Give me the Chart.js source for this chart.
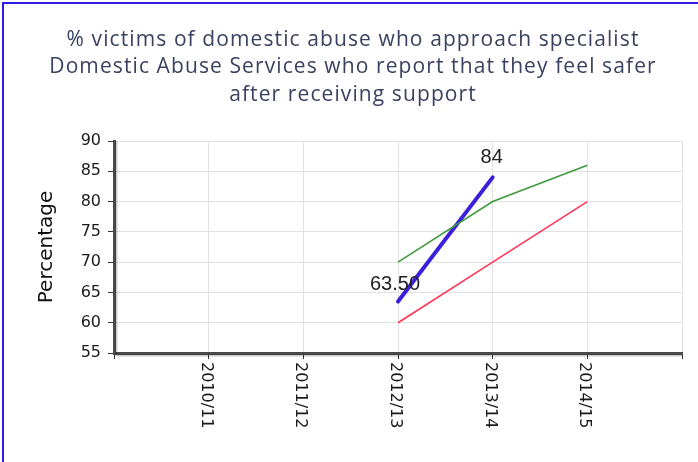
<!DOCTYPE html>
<html>
<head>
<meta charset="utf-8">
<script src="https://cdn.jsdelivr.net/npm/chart.js@4/dist/chart.umd.min.js"></script>
<style>
  html, body { margin:0; padding:0; background:#fff; overflow:hidden; }
  #wrap { position:relative; width:698px; height:462px; }
  #frame { position:absolute; left:2px; top:2px; width:900px; height:700px;
           border-top:2px solid #2d1de6; border-left:2px solid #2d1de6; pointer-events:none; }
  canvas { position:absolute; left:0; top:0; }
</style>
</head>
<body>
<div id="wrap">
  <canvas id="c" width="698" height="462"></canvas>
  <div id="frame"></div>
</div>
<script>
// ---- data ----
const categories = ['', '2010/11', '2011/12', '2012/13', '2013/14', '2014/15', ''];
const actualValues = [null, null, null, 63.5, 84, null, null];
const actualLabels = [null, null, null, '63.50', '84', null, null];
const upperTarget = [null, null, null, 70, 80, 86, null];
const lowerTarget = [null, null, null, 60, 70, 80, null];
const yTicks = [55, 60, 65, 70, 75, 80, 85, 90];
const titleLines = ['% victims of domestic abuse who approach specialist',
                    'Domestic Abuse Services who report that they feel safer',
                    'after receiving support'];
const yTitle = 'Percentage';

// Title drawn with letter spacing over the (transparent) layout title box
const spacedTitle = {
  id: 'spacedTitle',
  afterDraw(chart) {
    const {ctx} = chart;
    ctx.save();
    ctx.font = '21px "Open Sans"';
    ctx.fillStyle = '#3a4160';
    ctx.textAlign = 'center';
    ctx.textBaseline = 'middle';
    try { ctx.letterSpacing = '1.1px'; } catch (e) {}
    const cx = 353;
    titleLines.forEach((t, i) => ctx.fillText(t, cx, 40 + i * 27.5));
    ctx.restore();
  }
};

const rotatedXLabels = {
  id: 'rotatedXLabels',
  afterDraw(chart) {
    const {ctx, scales:{x}} = chart;
    ctx.save();
    ctx.font = '16px "DejaVu Sans"';
    ctx.fillStyle = '#1a1a1a';
    ctx.textAlign = 'left';
    ctx.textBaseline = 'middle';
    categories.forEach((lab, i) => {
      if (!lab) return;
      const px = x.getPixelForValue(i);
      ctx.save();
      ctx.translate(px - 3, x.top + 9);
      ctx.rotate(Math.PI / 2);
      ctx.fillText(lab, 0, 0);
      ctx.restore();
    });
    ctx.restore();
  }
};

const pointLabels = {
  id: 'pointLabels',
  afterDatasetsDraw(chart) {
    const {ctx, scales:{x, y}} = chart;
    ctx.save();
    ctx.font = '20px "Liberation Sans"';
    ctx.fillStyle = '#222';
    ctx.textAlign = 'center';
    ctx.textBaseline = 'middle';
    actualLabels.forEach((lab, i) => {
      if (lab == null) return;
      const px = x.getPixelForValue(i);
      const py = y.getPixelForValue(actualValues[i]);
      const dx = (i === 3) ? -3 : -1;
      const dy = (i === 3) ? -17 : -20;
      ctx.fillText(lab, px + dx, py + dy);
    });
    ctx.restore();
  }
};

const axisShadow = {
  id: 'axisShadow',
  beforeDatasetsDraw(chart) {
    const {ctx, chartArea:a} = chart;
    ctx.save();
    ctx.strokeStyle = 'rgba(0,0,0,0.2)';
    ctx.lineWidth = 2;
    ctx.beginPath();
    ctx.moveTo(a.left + 2.5, a.top);
    ctx.lineTo(a.left + 2.5, a.bottom + 2.5);
    ctx.lineTo(a.right, a.bottom + 2.5);
    ctx.stroke();
    ctx.restore();
  }
};

new Chart(document.getElementById('c'), {
  type: 'line',
  data: {
    labels: categories,
    datasets: [
      { label: 'Upper', data: upperTarget, borderColor: '#3f9a3f', borderWidth: 1.6, pointRadius: 0, tension: 0 },
      { label: 'Lower', data: lowerTarget, borderColor: '#ff3456', borderWidth: 1.6, pointRadius: 0, tension: 0 },
      { label: 'Actual', data: actualValues, borderColor: '#3a20dc', borderWidth: 4, pointRadius: 0, tension: 0, borderCapStyle: 'round' }
    ]
  },
  options: {
    responsive: false,
    animation: false,
    layout: { padding: { top: 0, left: 0, right: 16, bottom: 0 } },
    plugins: {
      legend: { display: false },
      tooltip: { enabled: false },
      title: {
        display: true,
        text: titleLines,
        color: 'rgba(0,0,0,0)',
        font: { family: '"Open Sans"', size: 20, weight: 'normal', lineHeight: 1.35 },
        padding: { top: 26, bottom: 34 }
      }
    },
    scales: {
      x: {
        type: 'category',
        offset: false,
        grid: { color: '#e2e2e2', lineWidth: 1, tickColor: '#333', tickLength: 6, drawTicks: true },
        border: { color: '#4a4a4a', width: 3 },
        ticks: { display: false, autoSkip: false },
        afterFit(scale) { scale.height = 109; }
      },
      y: {
        min: 55, max: 90,
        afterBuildTicks(scale) { scale.ticks = yTicks.map(v => ({ value: v })); },
        grid: { color: '#e2e2e2', lineWidth: 1, tickColor: '#333', tickLength: 6 },
        border: { color: '#4a4a4a', width: 3 },
        ticks: { color: '#1a1a1a', font: { family: '"DejaVu Sans"', size: 16 }, padding: 7 },
        title: { display: true, text: yTitle, color: '#111', font: { family: '"DejaVu Sans"', size: 20, lineHeight: 1.2 }, padding: { top: 35, bottom: 0 } },
        afterFit(scale) { scale.width = 114; }
      }
    }
  },
  plugins: [axisShadow, pointLabels, rotatedXLabels, spacedTitle]
});
</script>
</body>
</html>
